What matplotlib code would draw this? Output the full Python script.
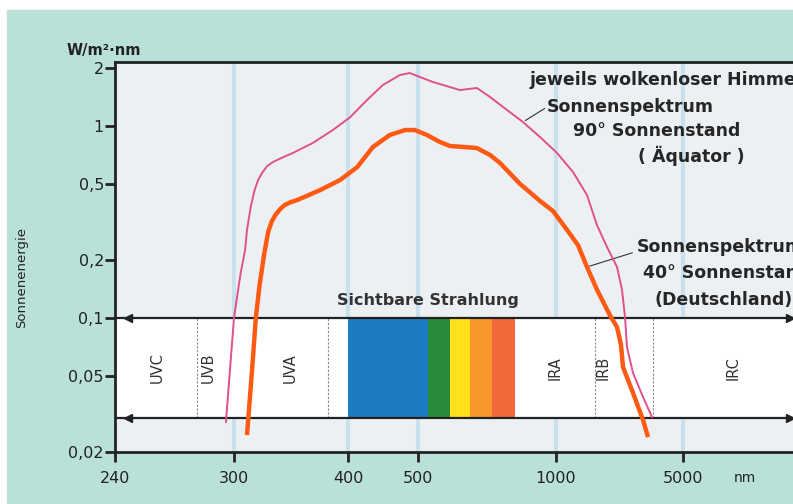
import numpy as np
import matplotlib
matplotlib.use('Agg')
import matplotlib.pyplot as plt
from matplotlib.patches import Rectangle

# wavelength [nm] / spectral irradiance [W/m2 nm]
pink_wl = [295.5, 300, 305, 308.5, 310, 313, 316, 319, 322, 326, 331, 340, 348, 366, 385, 403,
           425, 447, 472, 487, 505, 539, 587, 617, 672, 718, 782, 847, 923, 1013, 1240, 1481,
           1681, 1908, 2167, 2308, 2398, 2459, 2654, 3012, 3376]
pink_val = [0.0287, 0.100, 0.170, 0.225, 0.287, 0.380, 0.463, 0.525, 0.568, 0.615, 0.648,
            0.688, 0.722, 0.814, 0.951, 1.111, 1.363, 1.631, 1.839, 1.884, 1.795, 1.691, 1.592,
            1.536, 1.574, 1.413, 1.209, 1.047, 0.874, 0.722, 0.575, 0.436, 0.304, 0.234, 0.184,
            0.140, 0.101, 0.0704, 0.0516, 0.0387, 0.0304]

orange_wl = [310, 314, 317, 320, 323.6, 327, 330, 333, 337, 341, 346, 352, 373, 392, 412, 433,
             457, 480, 495, 523, 558, 587, 633, 672, 718, 755, 835, 923, 985, 1150, 1322, 1481,
             1681, 1982, 2167, 2279, 2338, 2654, 3012, 3209]
orange_val = [0.0245, 0.0535, 0.100, 0.148, 0.212, 0.280, 0.318, 0.343, 0.368, 0.387, 0.400,
              0.411, 0.463, 0.522, 0.610, 0.775, 0.896, 0.951, 0.951, 0.896, 0.824, 0.785, 0.775,
              0.766, 0.705, 0.640, 0.498, 0.406, 0.360, 0.287, 0.239, 0.184, 0.140, 0.103,
              0.0895, 0.0721, 0.0554, 0.0406, 0.0294, 0.0239]

# regions
band_lo, band_hi = 0.03, 0.1
region_bounds = [280, 380, 1640, 3420]
region_names = ["UVC", "UVB", "UVA", "IRA", "IRB", "IRC"]
region_centers = [260, 286, 346, 995, 1813, 6850]
vis_edges = [400, 525, 587, 649, 725, 814]
vis_colors = ["#1b7cc4", "#2a8a3c", "#ffe01a", "#f7962a", "#f2683a"]

xticks = [240, 300, 400, 500, 1000, 5000]
yticks = [2, 1, 0.5, 0.2, 0.1, 0.05, 0.02]
ylabels = ["2", "1", "0,5", "0,2", "0,1", "0,05", "0,02"]

# the drawing uses an uneven wavelength axis
anchors = np.log10([240, 300, 400, 500, 1000, 5000, 10000])
anchor_pos = np.array([115, 234, 348, 418, 556, 683, 793], dtype=float)

def fwd(x):
    x = np.asarray(x, dtype=float)
    return np.interp(np.log10(np.clip(x, 1e-9, None)), anchors, anchor_pos)

def inv(p):
    return 10 ** np.interp(p, anchor_pos, anchors)

W, H = 793, 504
fig = plt.figure(figsize=(W / 100, H / 100), dpi=100, facecolor="white")
fig.patches.append(Rectangle((7 / W, 0), 1, 1 - 10 / H, transform=fig.transFigure,
                             color="#b9e1d9", zorder=-5))

ax = fig.add_axes([115 / W, (H - 452) / H, (W - 115) / W, (452 - 62) / H])
ax.set_zorder(2)
ax.set_facecolor("#edf0f3")
ax.set_xscale("function", functions=(fwd, inv))
ax.set_yscale("log")
ax.set_xlim(240, 10000)
ax.set_ylim(0.02, 2.15)

for gx in xticks[1:]:
    ax.axvline(gx, color="#c9e1ec", lw=3, zorder=0.5)

# band with regions
ax.fill_between([240, 10000], band_lo, band_hi, color="white", zorder=1)
for i in range(len(vis_colors)):
    ax.fill_between([vis_edges[i], vis_edges[i + 1]], band_lo, band_hi,
                    color=vis_colors[i], lw=0, zorder=1.2)
for b in region_bounds:
    ax.plot([b, b], [band_lo, band_hi], color="#888888", lw=0.8, ls=(0, (2, 1.5)), zorder=1.3)
for name, cx in zip(region_names, region_centers):
    ax.text(cx, np.sqrt(band_lo * band_hi), name, rotation=90, ha="center", va="center",
            fontsize=10.5, color="#333333", zorder=2)
for yb in [band_lo, band_hi]:
    ax.axhline(yb, color="#222222", lw=1.6, zorder=3)
    ax.plot([246], [yb], marker="<", color="#222222", ms=6, zorder=3, clip_on=False)
    ax.plot([9800], [yb], marker=">", color="#222222", ms=6, zorder=3, clip_on=False)

ax.text(np.sqrt(337 * 820), 0.123, "Sichtbare Strahlung", ha="center", va="center",
        fontsize=11.5, fontweight="bold", color="#333333")

# curves
ax.plot(pink_wl, pink_val, color="#e0508a", lw=1.4, zorder=4, solid_joinstyle="round")
ax.plot(orange_wl, orange_val, color="#ff5a14", lw=3.2, zorder=4, solid_capstyle="butt",
        solid_joinstyle="round")

# labels
def px(x, y):
    return (x / W, 1 - y / H)

ax.annotate("", xy=(pink_wl[27], pink_val[27]), xytext=px(547, 107), textcoords="figure fraction",
            arrowprops=dict(arrowstyle="-", color="#333333", lw=0.8))
ax.annotate("", xy=(orange_wl[31], orange_val[31]), xytext=px(635, 252), textcoords="figure fraction",
            arrowprops=dict(arrowstyle="-", color="#333333", lw=0.8))

tk = dict(fontsize=12.5, color="#262626", va="center", ha="left", fontweight="bold")
fig.text(*px(530, 80), "jeweils wolkenloser Himmel", **tk)
fig.text(*px(547, 107), "Sonnenspektrum", **tk)
fig.text(*px(573, 131), "90° Sonnenstand", **tk)
fig.text(*px(638, 156), "( Äquator )", **tk)
fig.text(*px(637, 247), "Sonnenspektrum", **tk)
fig.text(*px(643, 273), "40° Sonnenstand", **tk)
fig.text(*px(655, 300), "(Deutschland)", **tk)

fig.text(*px(104, 50), "W/m²·nm", fontsize=10.5, ha="center", va="center", color="#222222",
         fontweight="bold")
fig.text(*px(22, 278), "Sonnenenergie", fontsize=9.5, rotation=90, ha="center", va="center",
         color="#222222")
fig.text(*px(745, 478), "nm", fontsize=10, ha="center", va="center", color="#222222")

ax.set_xticks(xticks)
ax.set_xticklabels([str(t) for t in xticks])
ax.set_yticks(yticks)
ax.set_yticklabels(ylabels)
ax.minorticks_off()
ax.xaxis.set_minor_locator(matplotlib.ticker.NullLocator())
ax.tick_params(axis="both", direction="out", length=7, width=2, colors="#222222",
               labelsize=11.5)
ax.tick_params(axis="x", pad=7)
ax.tick_params(axis="y", pad=1)
for s in ["left", "bottom", "top"]:
    ax.spines[s].set_linewidth(2)
    ax.spines[s].set_color("#222222")
ax.spines["right"].set_visible(False)

fig.savefig("out.png", dpi=100, facecolor=fig.get_facecolor())
